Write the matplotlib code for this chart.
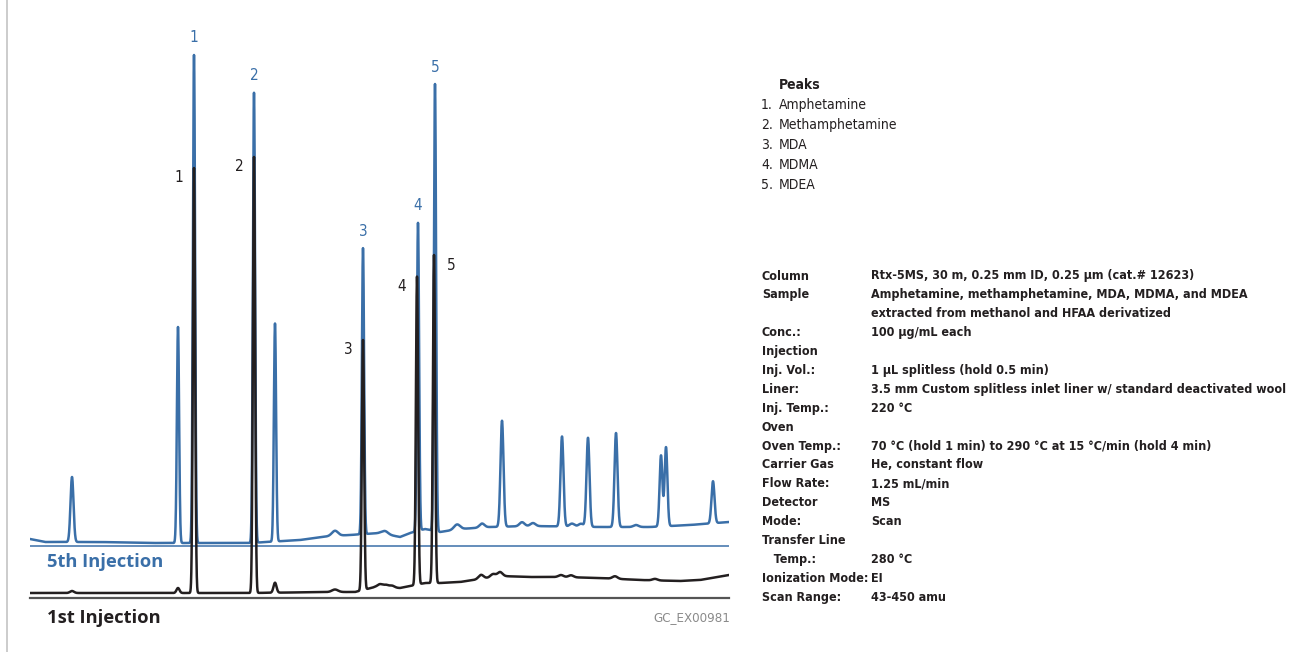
#!/usr/bin/env python3
"""GC-MS chromatogram of HFAA-derivatized amphetamines: 1st vs 5th injection."""

import matplotlib

matplotlib.use("Agg")
import matplotlib.pyplot as plt
from matplotlib.lines import Line2D
import numpy as np

BLUE = "#3a6fa8"
INK = "#231f20"
GREY = "#8a8a8a"

NARROW = dict(family="DejaVu Sans", fontstretch="condensed")
HEAD = ["Open Sans", "DejaVu Sans"]

# retention window (min) and offset of the 5th-injection trace (abundance units)
T_START, T_END = 3.0, 16.98
OFFSET_5TH = 10.4

# target analytes: retention time (min) per injection and peak height above baseline
TARGET_RT_1ST = [6.28, 7.48, 9.66, 10.74, 11.08]
TARGET_H_1ST = [85.0, 87.2, 50.0, 61.6, 65.6]
TARGET_RT_5TH = [6.28, 7.48, 9.66, 10.76, 11.10]
TARGET_H_5TH = [97.6, 90.0, 57.2, 61.6, 89.4]
TARGET_SIGMA = [0.022, 0.022, 0.022, 0.022, 0.022]
PEAK_NAMES = ["Amphetamine", "Methamphetamine", "MDA", "MDMA", "MDEA"]

# other peaks (matrix / bleed), 1st injection
OTHER_RT_1ST = [3.84, 5.96, 7.90, 9.10, 10.00, 10.12, 10.24, 12.02, 12.26, 12.40, 13.62, 13.82, 14.70, 15.50]
OTHER_H_1ST = [0.4, 1.0, 2.0, 0.5, 0.6, 0.5, 0.4, 0.8, 0.6, 0.8, 0.4, 0.4, 0.5, 0.3]
OTHER_SIGMA_1ST = [0.04, 0.03, 0.03, 0.06, 0.05, 0.05, 0.05, 0.05, 0.05, 0.05, 0.05, 0.05, 0.05, 0.05]

# other peaks, 5th injection
OTHER_RT_5TH = [3.84, 5.96, 7.90, 9.10, 10.10, 11.54, 12.04, 12.44, 12.84, 13.06,
                13.64, 13.84, 14.02, 14.16, 14.72, 15.12, 15.62, 15.72, 16.66]
OTHER_H_5TH = [13.0, 43.2, 43.6, 1.0, 0.6, 1.0, 0.8, 21.2, 0.8, 0.6,
               18.0, 0.6, 0.6, 17.8, 18.8, 0.4, 14.2, 15.8, 8.4]
OTHER_SIGMA_5TH = [0.03, 0.022, 0.022, 0.06, 0.06, 0.06, 0.05, 0.03, 0.05, 0.05,
                   0.03, 0.05, 0.05, 0.03, 0.03, 0.05, 0.028, 0.028, 0.03]

# baseline drift
BASE_T_1ST = [3.0, 5.4, 7.4, 9.0, 9.5, 9.9, 10.4, 10.9, 11.2, 11.6, 12.4, 13.0, 13.6, 14.4, 15.2, 16.0, 16.4, 16.98]
BASE_Y_1ST = [1.0, 1.0, 1.0, 1.2, 1.2, 2.2, 2.0, 3.0, 3.0, 3.2, 4.4, 4.2, 4.2, 4.0, 3.6, 3.4, 3.6, 4.6]
BASE_T_5TH = [3.0, 3.3, 4.4, 5.4, 7.4, 8.4, 9.0, 9.4, 10.0, 10.4, 10.6, 10.9, 11.2, 11.6,
              12.2, 13.0, 14.4, 15.4, 16.2, 16.98]
BASE_Y_5TH = [1.4, 0.8, 0.8, 0.6, 0.6, 1.2, 2.0, 2.2, 2.6, 1.8, 2.6, 3.4, 2.8, 3.4,
              3.8, 4.0, 3.8, 3.8, 4.2, 4.8]

CONDITIONS = [
    ("Column", "Rtx-5MS, 30 m, 0.25 mm ID, 0.25 µm (cat.# 12623)"),
    ("Sample", "Amphetamine, methamphetamine, MDA, MDMA, and MDEA"),
    ("", "extracted from methanol and HFAA derivatized"),
    ("Conc.:", "100 µg/mL each"),
    ("Injection", ""),
    ("Inj. Vol.:", "1 µL splitless (hold 0.5 min)"),
    ("Liner:", "3.5 mm Custom splitless inlet liner w/ standard deactivated wool"),
    ("Inj. Temp.:", "220 °C"),
    ("Oven", ""),
    ("Oven Temp.:", "70 °C (hold 1 min) to 290 °C at 15 °C/min (hold 4 min)"),
    ("Carrier Gas", "He, constant flow"),
    ("Flow Rate:", "1.25 mL/min"),
    ("Detector", "MS"),
    ("Mode:", "Scan"),
    ("Transfer Line", ""),
    ("   Temp.:", "280 °C"),
    ("Ionization Mode:", "EI"),
    ("Scan Range:", "43-450 amu"),
]


def trace(t, base_t, base_y, rts, heights, sigmas):
    y = np.interp(t, base_t, base_y)
    for rt, h, s in zip(rts, heights, sigmas):
        y = y + h * np.exp(-0.5 * ((t - rt) / s) ** 2)
    return y


W, H = 1310, 652
fig = plt.figure(figsize=(W / 100, H / 100), dpi=100)
ax = fig.add_axes([30 / W, 54 / H, 699 / W, 598 / H])
ax.set_xlim(T_START, T_END)
ax.set_ylim(0, 119.6)
ax.axis("off")

t = np.arange(T_START, T_END, 0.002)
first = trace(t, BASE_T_1ST, BASE_Y_1ST,
              TARGET_RT_1ST + OTHER_RT_1ST, TARGET_H_1ST + OTHER_H_1ST, TARGET_SIGMA + OTHER_SIGMA_1ST)
fifth = OFFSET_5TH + trace(t, BASE_T_5TH, BASE_Y_5TH,
                           TARGET_RT_5TH + OTHER_RT_5TH, TARGET_H_5TH + OTHER_H_5TH, TARGET_SIGMA + OTHER_SIGMA_5TH)

ax.plot(t, fifth, color=BLUE, lw=1.8, solid_joinstyle="round", zorder=2)
ax.axhline(OFFSET_5TH, color=BLUE, lw=1.1, zorder=2)
ax.plot(t, first, color=INK, lw=1.8, solid_joinstyle="round", zorder=3)
ax.axhline(0, color="#555555", lw=1.6, clip_on=False, zorder=3)

# peak numbers: blue above the 5th-injection apex, black beside the 1st
for i, (rt, h) in enumerate(zip(TARGET_RT_5TH, TARGET_H_5TH)):
    top = OFFSET_5TH + np.interp(rt, BASE_T_5TH, BASE_Y_5TH) + h
    ax.annotate(str(i + 1), (rt, top), xytext=(0, 17), textcoords="offset pixels",
                ha="center", va="center", color=BLUE, fontsize=11, **NARROW)
for i, (rt, h) in enumerate(zip(TARGET_RT_1ST, TARGET_H_1ST)):
    top = np.interp(rt, BASE_T_1ST, BASE_Y_1ST) + h
    dx = 17 if i == 4 else -15
    ax.annotate(str(i + 1), (rt, top), xytext=(dx, -10), textcoords="offset pixels",
                ha="center", va="center", color=INK, fontsize=11, **NARROW)

fig.text(47 / W, 1 - 562 / H, "5th Injection", color=BLUE, fontsize=13.2, fontweight="bold",
         family=HEAD, va="center")
fig.text(47 / W, 1 - 618 / H, "1st Injection", color=INK, fontsize=13.2, fontweight="bold",
         family=HEAD, va="center")
fig.text(730 / W, 1 - 618 / H, "GC_EX00981", color=GREY, fontsize=9.5, **NARROW,
         ha="right", va="center")

# peak key
fig.text(779 / W, 1 - 85 / H, "Peaks", fontsize=10, fontweight="bold", va="center", color=INK, **NARROW)
for i, name in enumerate(PEAK_NAMES):
    y = 1 - (105 + 20 * i) / H
    fig.text(761 / W, y, f"{i + 1}.", fontsize=10, va="center", color=INK, **NARROW)
    fig.text(779 / W, y, name, fontsize=10, va="center", color=INK, **NARROW)

# instrument conditions
for i, (label, value) in enumerate(CONDITIONS):
    y = 1 - (276 + 18.9 * i) / H
    fig.text(762 / W, y, label, fontsize=9, fontweight="bold", va="center", color=INK, **NARROW)
    fig.text(871 / W, y, value, fontsize=9, fontweight="bold", va="center", color=INK, **NARROW)

fig.add_artist(Line2D([7 / W, 7 / W], [0, 1], transform=fig.transFigure, color="#c4c4c4", lw=1.2))

fig.savefig("out.png", dpi=100, facecolor="white")
